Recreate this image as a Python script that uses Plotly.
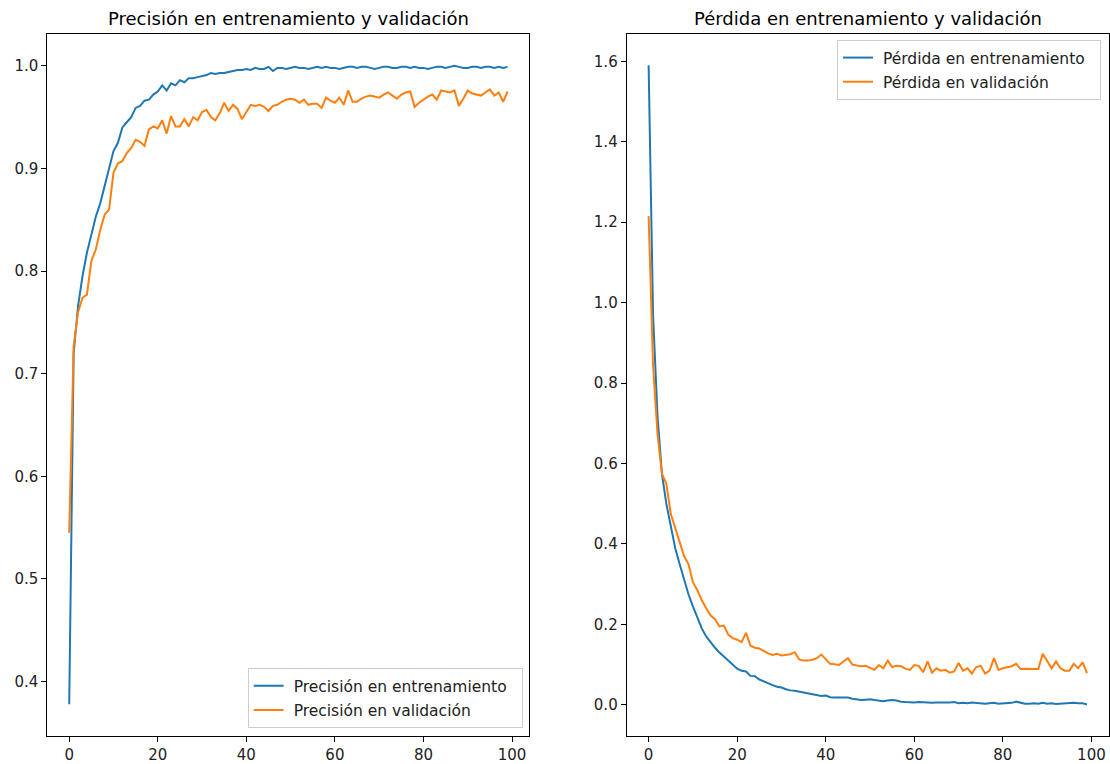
import plotly.graph_objects as go

# ---- data ----
train_acc = [
    0.378, 0.720, 0.766, 0.795, 0.818, 0.835, 0.853, 0.866, 0.883, 0.900,
    0.917, 0.925, 0.940, 0.945, 0.950, 0.959, 0.961, 0.966, 0.967, 0.972,
    0.975, 0.981, 0.976, 0.983, 0.981, 0.986, 0.984, 0.988, 0.988, 0.989,
    0.990, 0.991, 0.993, 0.992, 0.993, 0.993, 0.994, 0.995, 0.996, 0.996,
    0.997, 0.996, 0.998, 0.997, 0.997, 0.999, 0.995, 0.998, 0.998, 0.997,
    0.998, 0.999, 0.998, 0.998, 0.997, 0.998, 0.999, 0.998, 0.999, 0.998,
    0.998, 0.997, 0.998, 0.999, 0.999, 0.998, 0.999, 0.999, 0.998, 0.997,
    0.998, 0.999, 0.999, 0.998, 0.998, 0.999, 0.999, 0.998, 0.999, 0.998,
    0.998, 0.997, 0.998, 0.999, 0.999, 0.998, 0.999, 1.000, 0.999, 0.998,
    0.998, 0.999, 0.999, 0.998, 0.999, 0.999, 0.998, 0.999, 0.998, 0.999,
]
val_acc = [
    0.545, 0.727, 0.760, 0.774, 0.777, 0.810, 0.821, 0.840, 0.855, 0.860,
    0.896, 0.905, 0.907, 0.915, 0.920, 0.928, 0.926, 0.922, 0.938, 0.941,
    0.939, 0.947, 0.934, 0.951, 0.941, 0.941, 0.948, 0.941, 0.950, 0.947,
    0.955, 0.957, 0.950, 0.947, 0.954, 0.964, 0.956, 0.962, 0.958, 0.948,
    0.955, 0.962, 0.961, 0.962, 0.960, 0.956, 0.961, 0.962, 0.965, 0.967,
    0.968, 0.967, 0.964, 0.967, 0.962, 0.963, 0.963, 0.959, 0.969, 0.966,
    0.964, 0.969, 0.962, 0.976, 0.965, 0.965, 0.968, 0.970, 0.971, 0.970,
    0.969, 0.972, 0.974, 0.971, 0.968, 0.972, 0.974, 0.975, 0.960, 0.964,
    0.967, 0.970, 0.972, 0.967, 0.976, 0.975, 0.974, 0.976, 0.961, 0.968,
    0.976, 0.973, 0.972, 0.971, 0.974, 0.977, 0.971, 0.974, 0.965, 0.975,
]
train_loss = [
    1.590, 0.970, 0.720, 0.575, 0.500, 0.440, 0.390, 0.350, 0.310, 0.275,
    0.245, 0.215, 0.190, 0.170, 0.155, 0.142, 0.130, 0.120, 0.110, 0.100,
    0.090, 0.085, 0.083, 0.072, 0.071, 0.063, 0.058, 0.052, 0.049, 0.045,
    0.043, 0.039, 0.036, 0.035, 0.033, 0.031, 0.028, 0.027, 0.025, 0.022,
    0.023, 0.019, 0.018, 0.018, 0.017, 0.018, 0.015, 0.013, 0.012, 0.013,
    0.014, 0.012, 0.010, 0.009, 0.011, 0.012, 0.011, 0.008, 0.007, 0.006,
    0.006, 0.007, 0.006, 0.005, 0.005, 0.006, 0.006, 0.005, 0.006, 0.007,
    0.004, 0.005, 0.004, 0.006, 0.005, 0.004, 0.003, 0.004, 0.005, 0.003,
    0.004, 0.004, 0.005, 0.008, 0.006, 0.003, 0.003, 0.004, 0.003, 0.005,
    0.003, 0.004, 0.002, 0.003, 0.004, 0.004, 0.005, 0.004, 0.004, 0.001,
]
val_loss = [
    1.215, 0.845, 0.675, 0.575, 0.550, 0.475, 0.440, 0.405, 0.370, 0.350,
    0.305, 0.285, 0.260, 0.240, 0.222, 0.213, 0.195, 0.197, 0.174, 0.166,
    0.162, 0.156, 0.179, 0.147, 0.142, 0.140, 0.133, 0.128, 0.124, 0.127,
    0.123, 0.125, 0.126, 0.131, 0.113, 0.110, 0.110, 0.112, 0.116, 0.125,
    0.113, 0.102, 0.101, 0.099, 0.108, 0.116, 0.100, 0.098, 0.096, 0.097,
    0.092, 0.087, 0.099, 0.091, 0.110, 0.094, 0.097, 0.096, 0.090, 0.087,
    0.099, 0.097, 0.081, 0.108, 0.080, 0.091, 0.085, 0.087, 0.080, 0.083,
    0.104, 0.085, 0.091, 0.078, 0.094, 0.097, 0.078, 0.085, 0.116, 0.087,
    0.091, 0.094, 0.096, 0.102, 0.089, 0.090, 0.090, 0.089, 0.089, 0.127,
    0.108, 0.091, 0.108, 0.091, 0.085, 0.085, 0.102, 0.091, 0.106, 0.079,
]
epochs = list(range(len(train_acc)))

x_ticks = [0, 20, 40, 60, 80, 100]
acc_ticks = [0.4, 0.5, 0.6, 0.7, 0.8, 0.9, 1.0]
loss_ticks = [0.0, 0.2, 0.4, 0.6, 0.8, 1.0, 1.2, 1.4, 1.6]

titles = ["Precisión en entrenamiento y validación", "Pérdida en entrenamiento y validación"]
acc_names = ["Precisión en entrenamiento", "Precisión en validación"]
loss_names = ["Pérdida en entrenamiento", "Pérdida en validación"]

BLUE = "#1f77b4"
ORANGE = "#ff7f0e"
FONT = "DejaVu Sans"
W, H = 1110, 764
TICK_SIZE = 15
LEG_SIZE = 15.5
TITLE_SIZE = 18
NB = "\u00a0"  # small padding inside the legend box, as in the reference


def leg(name):
    return NB + name + NB + NB


fig = go.Figure()
fig.add_trace(go.Scatter(x=epochs, y=train_acc, mode="lines", name=leg(acc_names[0]),
                         line=dict(color=BLUE, width=2), xaxis="x", yaxis="y",
                         legend="legend", legendgroup="a1"))
fig.add_trace(go.Scatter(x=epochs, y=val_acc, mode="lines", name=leg(acc_names[1]),
                         line=dict(color=ORANGE, width=2), xaxis="x", yaxis="y",
                         legend="legend", legendgroup="a2"))
fig.add_trace(go.Scatter(x=epochs, y=train_loss, mode="lines", name=leg(loss_names[0]),
                         line=dict(color=BLUE, width=2), xaxis="x2", yaxis="y2",
                         legend="legend2", legendgroup="l1"))
fig.add_trace(go.Scatter(x=epochs, y=val_loss, mode="lines", name=leg(loss_names[1]),
                         line=dict(color=ORANGE, width=2), xaxis="x2", yaxis="y2",
                         legend="legend2", legendgroup="l2"))

axis_common = dict(showline=True, linecolor="black", linewidth=1, mirror=True,
                   ticks="outside", ticklen=5, tickwidth=1, tickcolor="black",
                   showgrid=False, zeroline=False,
                   tickfont=dict(family=FONT, size=TICK_SIZE, color="#222222"))

x1 = (47.3 / W, 529.3 / W)
x2 = (626.7 / W, 1108.7 / W)
ydom = (1 - 736 / H, 1 - 33.5 / H)

legend_common = dict(bgcolor="rgba(255,255,255,0.8)", bordercolor="#cccccc", borderwidth=1,
                     font=dict(family=FONT, size=LEG_SIZE, color="#222222"), tracegroupgap=1)

fig.update_layout(
    width=W, height=H,
    margin=dict(l=0, r=0, t=0, b=0),
    paper_bgcolor="white", plot_bgcolor="white",
    font=dict(family=FONT, color="black"),
    xaxis=dict(domain=x1, range=[-4.95, 103.9], tickvals=x_ticks, anchor="y", **axis_common),
    yaxis=dict(domain=ydom, range=[0.347, 1.0315], tickvals=acc_ticks, tickformat=".1f",
               anchor="x", **axis_common),
    xaxis2=dict(domain=x2, range=[-4.95, 103.9], tickvals=x_ticks, anchor="y2", **axis_common),
    yaxis2=dict(domain=ydom, range=[-0.0774, 1.669], tickvals=loss_ticks, tickformat=".1f",
                anchor="x2", **axis_common),
    legend=dict(x=522.7 / W, y=1 - 728.3 / H, xanchor="right", yanchor="bottom",
                **legend_common),
    legend2=dict(x=1101 / W, y=1 - 40 / H, xanchor="right", yanchor="top",
                 **legend_common),
    annotations=[
        dict(text=titles[0], x=(x1[0] + x1[1]) / 2, y=1 - 18.5 / H, xref="paper", yref="paper",
             xanchor="center", yanchor="middle", showarrow=False,
             font=dict(family=FONT, size=TITLE_SIZE, color="black")),
        dict(text=titles[1], x=(x2[0] + x2[1]) / 2, y=1 - 18.5 / H, xref="paper", yref="paper",
             xanchor="center", yanchor="middle", showarrow=False,
             font=dict(family=FONT, size=TITLE_SIZE, color="black")),
    ],
)

fig.write_html("out.html", config={"displayModeBar": False},
               post_script="document.body.style.margin='0';document.body.style.overflow='hidden';")
